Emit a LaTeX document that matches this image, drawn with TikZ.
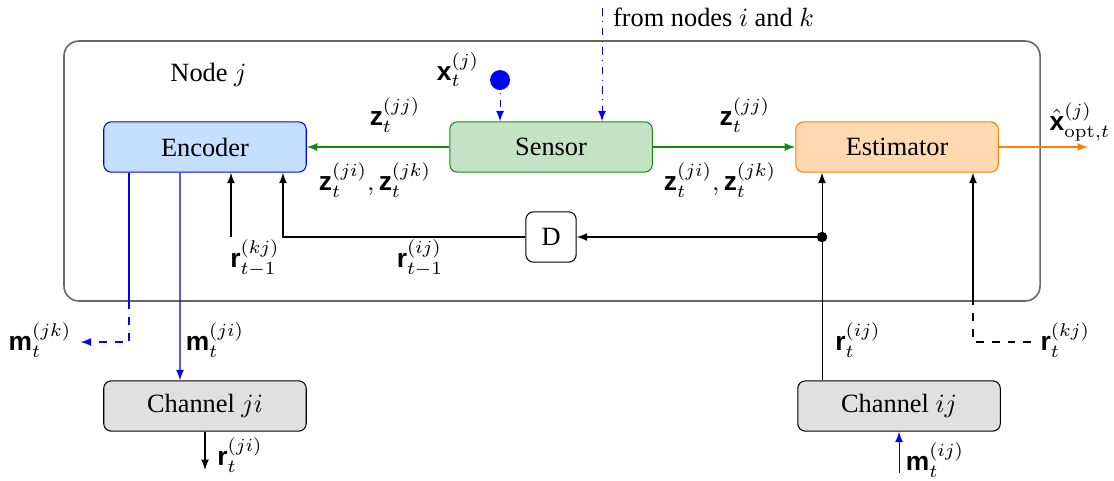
\documentclass[tikz,border=0pt]{standalone}
\usepackage{amsmath}
\usepackage[no-math]{fontspec}
\setmainfont{Liberation Serif}
\setsansfont{Liberation Sans}
\usetikzlibrary{arrows}

\definecolor{encfill}{RGB}{197,224,255}
\definecolor{senfill}{RGB}{196,226,196}
\definecolor{sendraw}{RGB}{20,140,20}
\definecolor{estfill}{RGB}{254,217,178}
\definecolor{estdraw}{RGB}{255,128,0}
\definecolor{chfill}{RGB}{224,224,224}

\newcommand{\vb}[1]{\text{\sffamily\bfseries #1}}

\tikzset{
  block/.style={draw, rounded corners=0.1cm, minimum width=2.7cm, minimum height=0.67cm},
  delay/.style={draw, rounded corners=0.1cm, minimum width=0.67cm, minimum height=0.67cm},
}

\begin{document}
\begin{tikzpicture}[>=latex]
  \useasboundingbox (0,0) rectangle (14.853,-6.413);
  \draw[black!60, line width=0.6pt, rounded corners=0.2cm] (0.853,-0.547) rectangle (13.867,-4.013);
  \node (title) at (2.78,-1.0) {Node $j$};

  \node[block, fill=encfill, draw=blue] (enc) at (2.733,-1.96) {Encoder};
  \node[block, fill=senfill, draw=sendraw] (sen) at (7.347,-1.96) {Sensor};
  \node[block, fill=estfill, draw=estdraw] (est) at (11.96,-1.96) {Estimator};
  \node[delay] (D) at (7.347,-3.16) {D};
  \node[block, fill=chfill] (chji) at (2.733,-5.413) {Channel $ji$};
  \node[block, fill=chfill] (chij) at (11.987,-5.413) {Channel $ij$};

  % inputs of the sensor
  \fill[blue] (6.667,-1.067) circle (0.133cm) coordinate (src);
  \node (xj) at (6.107,-0.933) {$\vb{x}_t^{(j)}$};
  \draw[->, blue, dash dot] (src) -- (sen.north -| src);
  \coordinate (top) at (8.027,-0.107);
  \node[anchor=west] (from) at (8.05,-0.227) {from nodes $i$ and $k$};
  \draw[->, blue, dash dot] (top) -- (sen.north -| top);

  % sensor outputs
  \draw[->, sendraw] (sen) -- (enc);
  \node (zjjl) at (5.267,-1.533) {$\vb{z}_t^{(jj)}$};
  \node (zjil) at (5.0,-2.4) {$\vb{z}_t^{(ji)}, \vb{z}_t^{(jk)}$};
  \draw[->, sendraw] (sen) -- (est);
  \node (zjjr) at (9.933,-1.533) {$\vb{z}_t^{(jj)}$};
  \node (zjir) at (9.6,-2.4) {$\vb{z}_t^{(ji)}, \vb{z}_t^{(jk)}$};

  % estimator output
  \coordinate (out) at (14.507,-1.96);
  \draw[->, estdraw] (est) -- (out);
  \node (xhat) at (14.4,-1.62) {$\hat{\vb{x}}_{\mathrm{opt},t}^{(j)}$};

  % feedback to the encoder
  \coordinate (rin) at (3.08,-3.16);
  \draw[->] (rin) -- (enc.south -| rin);
  \node (rkjl) at (3.4,-3.44) {$\vb{r}_{t-1}^{(kj)}$};
  \draw[->] (D.west) -| ([xshift=1.04cm]enc.south);
  \node (rijl) at (5.6,-3.44) {$\vb{r}_{t-1}^{(ij)}$};

  % inputs of the estimator
  \coordinate (jn) at (10.96,-3.16);
  \draw[->] (chij.north -| jn) -- (est.south -| jn);
  \fill (jn) circle (0.07cm);
  \draw[->] (jn) -- (D.east);
  \node (rij) at (11.44,-4.533) {$\vb{r}_t^{(ij)}$};
  \node[anchor=west] (rkj) at (13.75,-4.533) {$\vb{r}_t^{(kj)}$};
  \coordinate (bx) at (12.973,-4.013);
  \draw[dashed] (rkj.west |- 0,-4.56) -| (bx);
  \draw[->] (bx) -- (est.south -| bx);

  % encoder outputs
  \coordinate (by) at (1.72,-4.013);
  \node (mjk) at (0.533,-4.533) {$\vb{m}_t^{(jk)}$};
  \draw[blue] (enc.south -| by) -- (by);
  \draw[->, blue, dashed] (by) |- (mjk.east |- 0,-4.56);
  \draw[->, blue] ([xshift=-0.333cm]enc.south) -- (chji.north -| 2.4,0);
  \node (mji) at (2.867,-4.533) {$\vb{m}_t^{(ji)}$};

  % channels
  \coordinate (rout) at (2.733,-6.267);
  \draw[->] (chji) -- (rout);
  \node (rji) at (3.2,-6.067) {$\vb{r}_t^{(ji)}$};
  \coordinate (min) at (11.987,-6.307);
  \draw[->, blue] (min) -- (chij);
  \node (mij) at (12.467,-6.133) {$\vb{m}_t^{(ij)}$};
\end{tikzpicture}
\end{document}
